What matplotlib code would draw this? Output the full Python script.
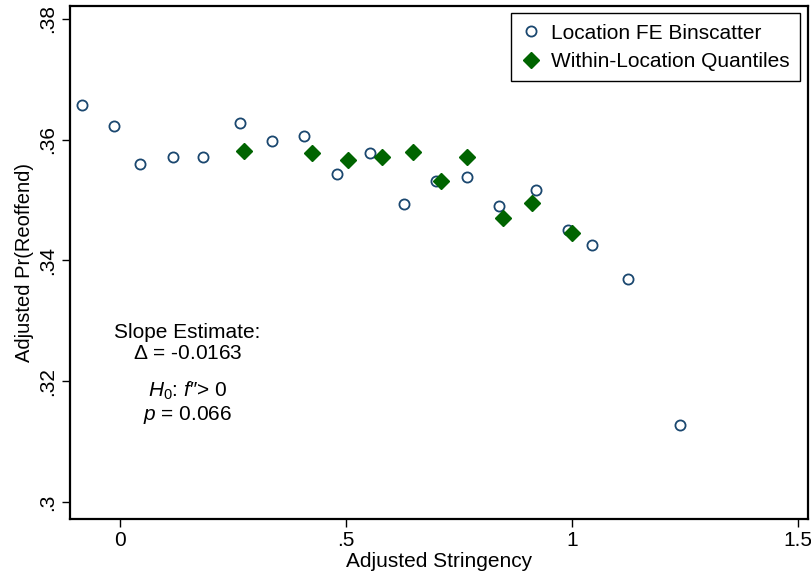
import matplotlib.pyplot as plt
import numpy as np

plt.rcParams['font.family'] = ['Liberation Sans', 'DejaVu Sans']
plt.rcParams['mathtext.fontset'] = 'custom'
plt.rcParams['mathtext.it'] = 'Liberation Sans:italic'
plt.rcParams['mathtext.rm'] = 'Liberation Sans'

# binscatter of location fixed effects
fe_x = [-0.084, -0.013, 0.044, 0.117, 0.184, 0.265, 0.336, 0.407, 0.480, 0.553,
        0.628, 0.699, 0.768, 0.838, 0.920, 0.991, 1.044, 1.124, 1.239]
fe_y = [0.3658, 0.3622, 0.3560, 0.3572, 0.3572, 0.3628, 0.3598, 0.3607, 0.3544, 0.3578,
        0.3494, 0.3532, 0.3539, 0.3491, 0.3517, 0.3450, 0.3426, 0.3370, 0.3127]

# within-location quantiles
wq_x = [0.274, 0.425, 0.504, 0.580, 0.648, 0.710, 0.768, 0.848, 0.911, 1.001]
wq_y = [0.3582, 0.3578, 0.3566, 0.3571, 0.3580, 0.3531, 0.3571, 0.3470, 0.3495, 0.3445]

slope = -0.0163
pval = 0.066

xticks = [0, 0.5, 1, 1.5]
xticklabels = ['0', '.5', '1', '1.5']
yticks = [0.30, 0.32, 0.34, 0.36, 0.38]
yticklabels = ['.3', '.32', '.34', '.36', '.38']

fig = plt.figure(figsize=(8.11, 5.76), dpi=100)
ax = fig.add_axes([0.0863, 0.099, 0.9100, 0.8906])

ax.plot(fe_x, fe_y, 'o', ms=7.3, mfc='none', mec='#1a476f', mew=1.3,
        label='Location FE Binscatter')
ax.plot(wq_x, wq_y, 'D', ms=8.5, color='#006400', mec='#006400',
        label='Within-Location Quantiles')

ax.set_xlim(-0.1106, 1.522)
ax.set_ylim(0.29719, 0.38215)
ax.set_xticks(xticks)
ax.set_xticklabels(xticklabels)
ax.set_yticks(yticks)
ax.set_yticklabels(yticklabels, rotation=90, va='center')
ax.tick_params(direction='out', length=6, width=1, labelsize=15, pad=3)
for s in ax.spines.values():
    s.set_linewidth(1.6)

ax.set_xlabel('Adjusted Stringency', fontsize=15, labelpad=1)
ax.set_ylabel('Adjusted Pr(Reoffend)', fontsize=14.5, labelpad=3)

leg = ax.legend(loc='upper right', bbox_to_anchor=(0.9895, 0.986), fontsize=15,
                fancybox=False, edgecolor='black', framealpha=1,
                handletextpad=0.45, borderpad=0.5, labelspacing=0.45,
                handlelength=1.0, borderaxespad=0.0)
leg.get_frame().set_linewidth(1.0)

ax.text(0.149, 0.32636, 'Slope Estimate:\n$\\Delta$ = %.4f' % slope, ha='center', va='center',
        fontsize=15, linespacing=1.1)
ax.text(0.149, 0.31645, "$\\mathit{H_0}$: $f$\u2033> 0\n$p$ = %.3f" % pval, ha='center', va='center',
        fontsize=15, linespacing=1.1)

fig.savefig('out.png', dpi=100)
